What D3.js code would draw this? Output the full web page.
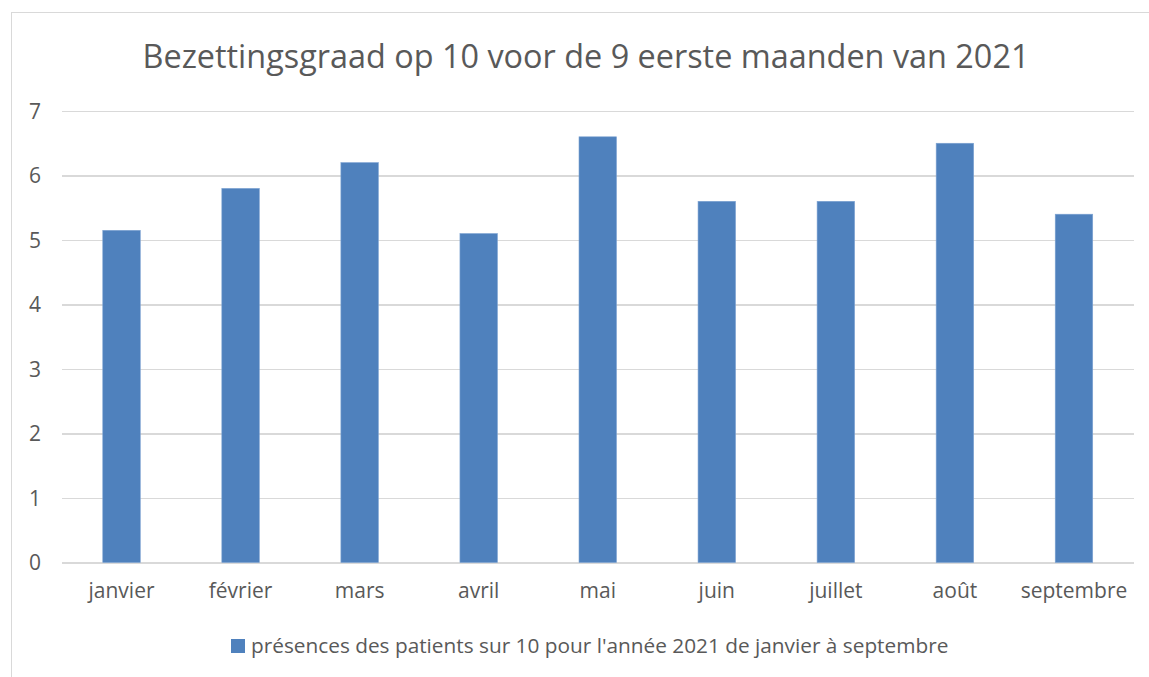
<!DOCTYPE html>
<head>
<meta charset="utf-8">
<title>Bezettingsgraad</title>
<script src="https://cdn.jsdelivr.net/npm/d3@7"></script>
<style>
	body { margin: 0; background: #fff; }
	text { font-family: "Open Sans", sans-serif; fill: #595959; }
	.grid line { stroke: #d9d9d9; stroke-width: 1.5; shape-rendering: crispEdges; }
	.grid path { display: none; }
</style>
</head>
<body>
<script>
var width = 1149;
var height = 677;
var margin = {top: 111, bottom: 115, left: 62, right: 15};

// data
var months = ["janvier", "février", "mars", "avril", "mai", "juin", "juillet", "août", "septembre"];
var presences = [5.15, 5.8, 6.2, 5.1, 6.6, 5.6, 5.6, 6.5, 5.4];
var yTicks = [0, 1, 2, 3, 4, 5, 6, 7];
var title = "Bezettingsgraad op 10 voor de 9 eerste maanden van 2021";
var seriesName = "présences des patients sur 10 pour l'année 2021 de janvier à septembre";

var dataset = months.map(function(m, i) { return {month: m, value: presences[i]}; });

var svg = d3.select("body").append("svg")
	.attr("width", width)
	.attr("height", height);

// chart frame (cut off on right and bottom like the source)
svg.append("rect")
	.attr("x", 11.5).attr("y", 12.5)
	.attr("width", width + 20).attr("height", height + 20)
	.attr("fill", "none")
	.attr("stroke", "#d9d9d9");

var plotRight = width - margin.right - 0.5;
var plotBottom = height - margin.bottom;

var xScale = d3.scaleBand().domain(months)
	.range([margin.left, plotRight])
	.paddingInner(0.685).paddingOuter(0.3425);
var yScale = d3.scaleLinear().domain([0, 7]).range([plotBottom + 0.5, margin.top]);

// grid + y labels
var yAxis = svg.append("g")
	.attr("class", "grid")
	.attr("transform", "translate(" + margin.left + ",0)")
	.call(d3.axisLeft(yScale).tickValues(yTicks).tickFormat(d3.format("d"))
		.tickSize(-(plotRight - margin.left)).tickPadding(21));
yAxis.selectAll("text")
	.style("font-size", "21px")
	.attr("dy", "0.35em");

// bars
svg.selectAll("rect.bar").data(dataset).enter()
	.append("rect")
	.attr("class", "bar")
	.attr("x", function(d) { return xScale(d.month); })
	.attr("y", function(d) { return yScale(d.value); })
	.attr("width", xScale.bandwidth())
	.attr("height", function(d) { return yScale(0) - yScale(d.value); })
	.attr("fill", "#4f81bd")
	.attr("stroke", "#7ea3d2")
	.attr("stroke-width", 0.6);

// x labels
svg.selectAll("text.xlab").data(months).enter()
	.append("text")
	.attr("class", "xlab")
	.attr("x", function(d) { return xScale(d) + xScale.bandwidth() / 2; })
	.attr("y", 598)
	.attr("text-anchor", "middle")
	.style("font-size", "21px")
	.text(function(d) { return d; });

// title
svg.append("text")
	.attr("x", 586)
	.attr("y", 68)
	.attr("text-anchor", "middle")
	.style("font-size", "32.4px")
	.text(title);

// legend
var legend = svg.append("g");
legend.append("rect")
	.attr("x", 231).attr("y", 639)
	.attr("width", 14).attr("height", 14)
	.attr("fill", "#4f81bd");
legend.append("text")
	.attr("x", 251).attr("y", 653)
	.style("font-size", "20.8px")
	.text(seriesName);
</script>
</body>
